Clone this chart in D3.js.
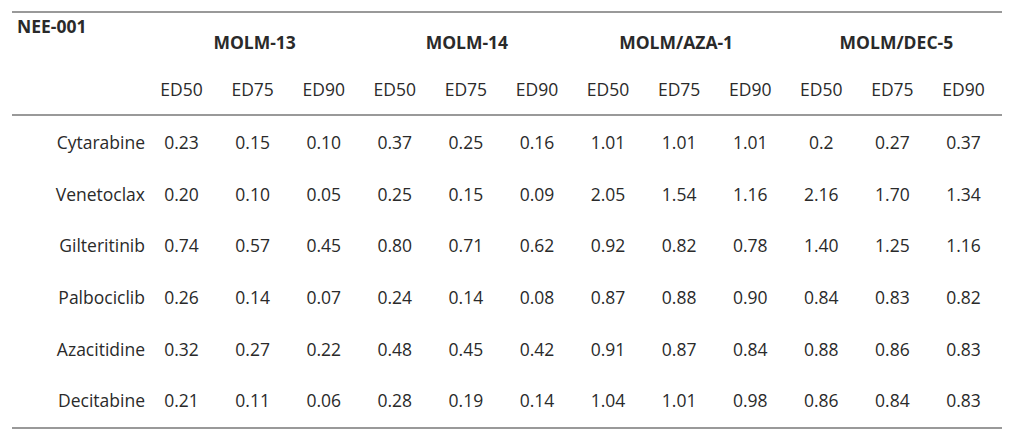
<!DOCTYPE html>
<html><head><meta charset="utf-8">
<script src="https://cdn.jsdelivr.net/npm/d3@7"></script>
<style>body{margin:0;background:#fff}svg text{font-family:"Open Sans","Noto Sans",sans-serif;fill:#2a2a2a}</style>
</head><body><svg id="c" width="1017" height="435"></svg>
<script>
const title = "NEE-001";
const groups = ["MOLM-13","MOLM-14","MOLM/AZA-1","MOLM/DEC-5"];
const measures = ["ED50","ED75","ED90"];
const drugs = ["Cytarabine","Venetoclax","Gilteritinib","Palbociclib","Azacitidine","Decitabine"];
const cytarabine  = ["0.23","0.15","0.10","0.37","0.25","0.16","1.01","1.01","1.01","0.2","0.27","0.37"];
const venetoclax  = ["0.20","0.10","0.05","0.25","0.15","0.09","2.05","1.54","1.16","2.16","1.70","1.34"];
const gilteritinib= ["0.74","0.57","0.45","0.80","0.71","0.62","0.92","0.82","0.78","1.40","1.25","1.16"];
const palbociclib = ["0.26","0.14","0.07","0.24","0.14","0.08","0.87","0.88","0.90","0.84","0.83","0.82"];
const azacitidine = ["0.32","0.27","0.22","0.48","0.45","0.42","0.91","0.87","0.84","0.88","0.86","0.83"];
const decitabine  = ["0.21","0.11","0.06","0.28","0.19","0.14","1.04","1.01","0.98","0.86","0.84","0.83"];
const values = [cytarabine,venetoclax,gilteritinib,palbociclib,azacitidine,decitabine];

const svg = d3.select("#c");
const cols = [];
groups.forEach(g=>measures.forEach(m=>cols.push(g+"|"+m)));
const x = d3.scaleBand().domain(cols).range([146,999]);
const xg = d3.scaleBand().domain(groups).range([146,999]);
const y = d3.scaleBand().domain(drugs).range([117,427]);
const fs = 17.5;

[12,115,428].forEach(yy=>{
  svg.append("line").attr("x1",12).attr("x2",1002).attr("y1",yy).attr("y2",yy)
    .attr("stroke","#777").attr("stroke-width",1.6);
});

svg.append("text").attr("x",17).attr("y",33).attr("font-weight","bold").attr("font-size",fs).text(title);

svg.selectAll(".g").data(groups).join("text")
  .attr("x",(d,i)=>xg(d)+xg.bandwidth()/2 + [2,1,-3,4][i]).attr("y",49)
  .attr("text-anchor","middle").attr("font-weight","bold").attr("font-size",fs).text(d=>d);

svg.selectAll(".m").data(cols).join("text")
  .attr("x",d=>x(d)+x.bandwidth()/2).attr("y",96)
  .attr("text-anchor","middle").attr("font-size",fs).text(d=>d.split("|")[1]);

svg.selectAll(".d").data(drugs).join("text")
  .attr("x",145).attr("y",d=>y(d)+y.bandwidth()/2+6)
  .attr("text-anchor","end").attr("font-size",fs).text(d=>d);

drugs.forEach((dr,ri)=>{
  svg.selectAll(".v"+ri).data(values[ri]).join("text")
    .attr("x",(v,i)=>x(cols[i])+x.bandwidth()/2).attr("y",y(dr)+y.bandwidth()/2+6)
    .attr("text-anchor","middle").attr("font-size",fs).text(v=>v);
});
</script></body></html>
